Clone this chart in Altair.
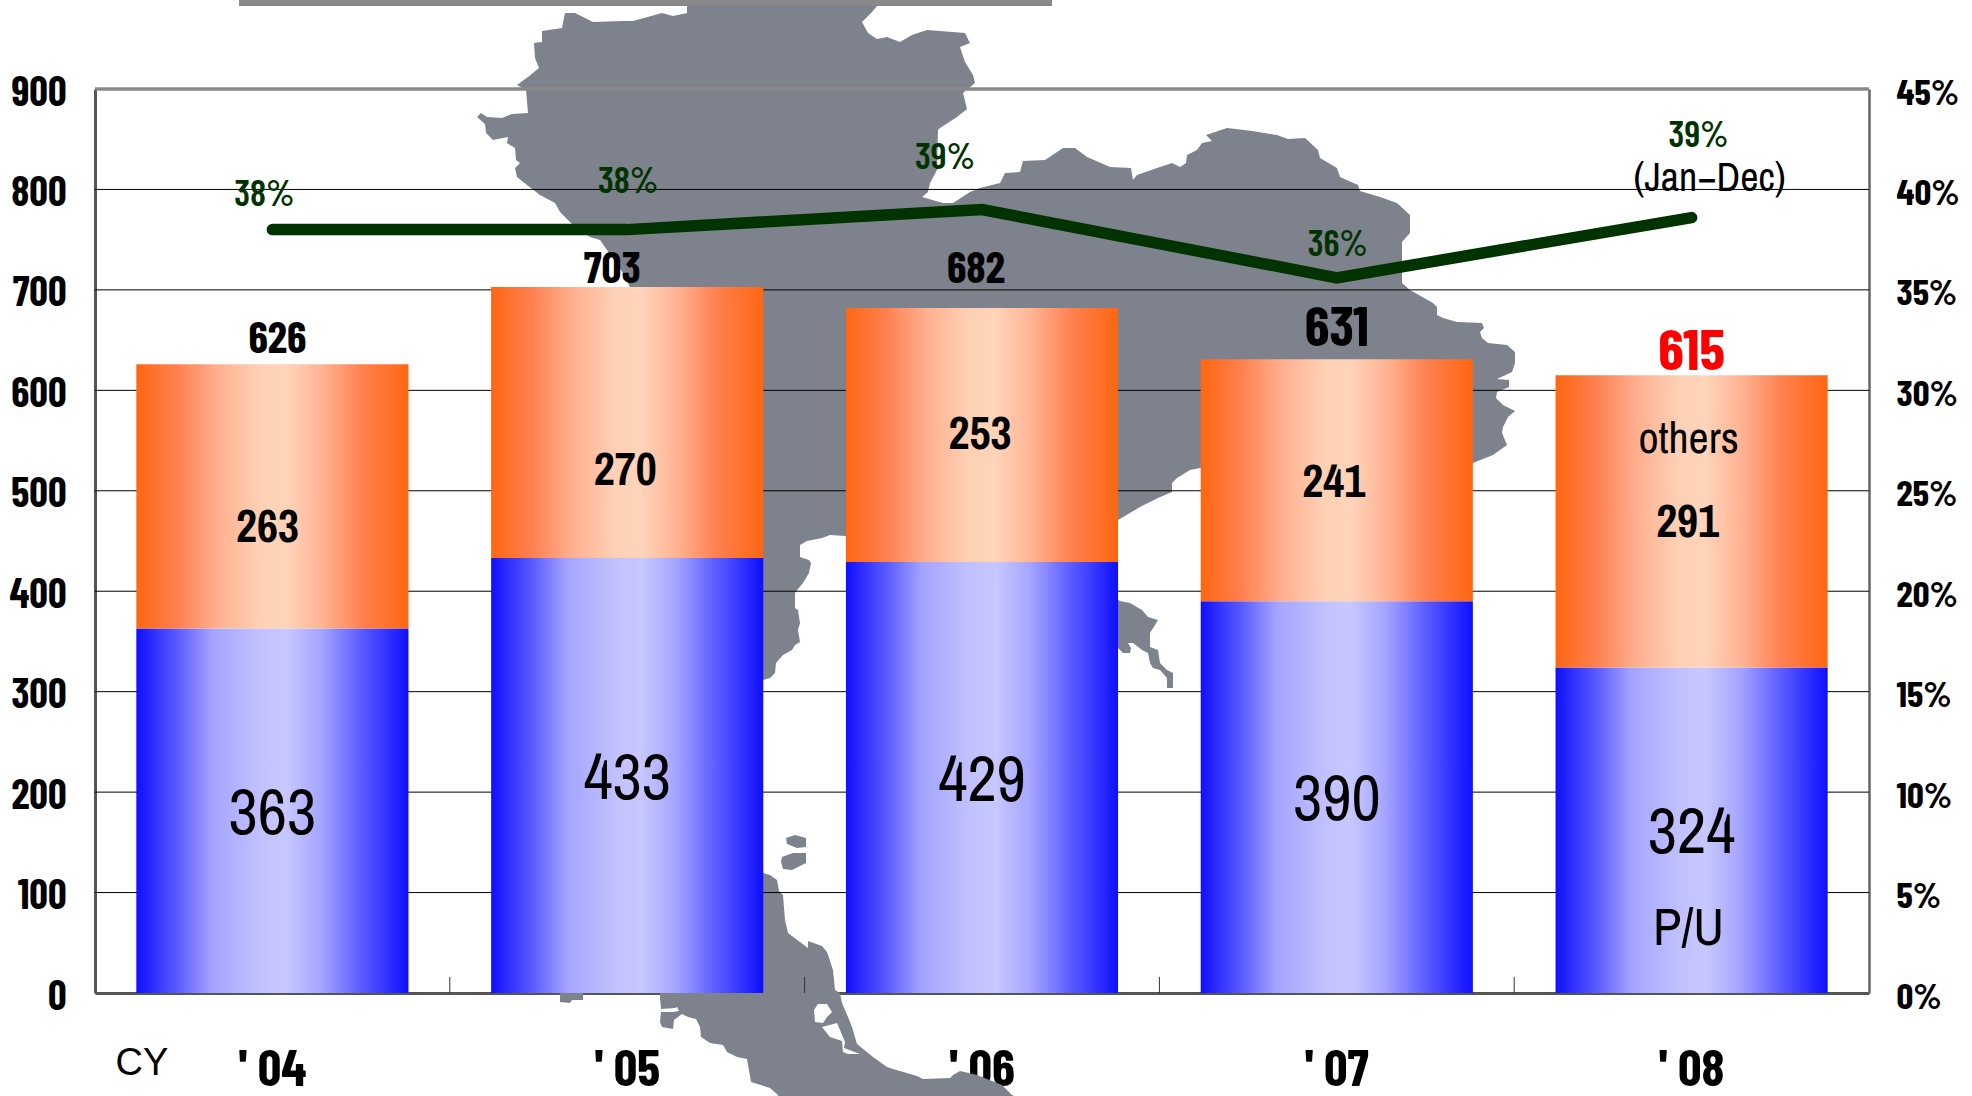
import altair as alt
import pandas as pd

# ---- values ----
years = ["' 04", "' 05", "' 06", "' 07", "' 08"]
pickups = [363, 433, 429, 390, 324]
others = [263, 270, 253, 241, 291]
totals = [626, 703, 682, 631, 615]
share = [38.0, 38.0, 39.0, 35.6, 38.6]

left_ticks = [0, 100, 200, 300, 400, 500, 600, 700, 800, 900]
right_ticks = [0, 5, 10, 15, 20, 25, 30, 35, 40, 45]
grid_levels = [100, 200, 300, 400, 500, 600, 700, 800]

# ---- label placement (hand-set offsets from each mark) ----
others_lift = [-30, -46, 2, -1, 0]
others_dx = [-5, -2, -2, -3, -4]
total_lift = [11, 4, 25, 13, 5]
total_dx = [5, -15, -6, 0, 0]
total_size = [44, 44, 44, 56, 58]
total_ink = ["#000000", "#000000", "#000000", "#000000", "#ff0000"]
share_lift = [1.2, 1.8, 2.0, 1.1, 3.5]
share_dx = [-8, 1, -37, 1, 7]

# ---- backdrop map outline, in page pixels ----
mainland = [
    (687, 0), (687, 13), (673, 16), (662, 13), (633, 21), (623, 21), (593, 22), (575, 13), (565, 13),
    (562, 28), (542, 31), (542, 42), (534, 43), (535, 58), (539, 68), (528, 77), (517, 85), (526, 90),
    (528, 113), (512, 114), (502, 118), (487, 117), (481, 113), (477, 117), (485, 124), (486, 133),
    (493, 140), (508, 137), (507, 143), (515, 148), (516, 160), (520, 163), (515, 168), (517, 177),
    (527, 185), (540, 195), (555, 203), (560, 212), (570, 222), (575, 227), (590, 237), (600, 240),
    (623, 273), (630, 287), (660, 990), (660, 997), (661, 1009), (675, 1008), (677, 1007), (679, 1011),
    (673, 1012), (661, 1012), (660, 1022), (662, 1027), (673, 1029), (674, 1020), (682, 1014),
    (688, 1017), (696, 1019), (700, 1027), (701, 1037), (710, 1043), (723, 1045), (727, 1052),
    (737, 1057), (747, 1059), (751, 1082), (770, 1088), (778, 1095), (778, 1096), (1014, 1096),
    (1012, 1095), (1002, 1085), (977, 1075), (960, 1071), (953, 1075), (950, 1078), (923, 1079),
    (917, 1076), (893, 1069), (887, 1067), (873, 1057), (857, 1044), (852, 1027), (848, 1017),
    (842, 1003), (840, 993), (835, 990), (833, 970), (827, 952), (822, 946), (808, 941), (808, 948),
    (800, 942), (788, 933), (785, 920), (783, 895), (779, 891), (777, 880), (770, 875), (763, 873),
    (763, 680), (770, 678), (775, 673), (776, 663), (783, 655), (792, 650), (795, 645), (800, 642),
    (798, 630), (800, 623), (798, 610), (795, 608), (795, 593), (798, 589), (803, 583), (809, 573),
    (811, 563), (809, 560), (800, 557), (800, 545), (807, 541), (822, 538), (830, 535), (845, 536),
    (1118, 648), (1123, 653), (1130, 653), (1131, 648), (1128, 643), (1133, 643), (1142, 650),
    (1148, 653), (1150, 663), (1153, 668), (1160, 670), (1167, 678), (1167, 688), (1173, 688),
    (1173, 673), (1167, 670), (1160, 663), (1158, 650), (1150, 647), (1150, 633), (1155, 625),
    (1158, 620), (1148, 617), (1142, 610), (1130, 603), (1120, 601), (1118, 600), (1118, 520),
    (1140, 507), (1158, 498), (1172, 492), (1172, 483), (1177, 478), (1190, 470), (1200, 468),
    (1473, 463), (1493, 455), (1507, 445), (1502, 433), (1503, 427), (1508, 417), (1515, 411),
    (1503, 405), (1496, 398), (1497, 392), (1509, 387), (1509, 380), (1497, 379), (1512, 372),
    (1515, 363), (1515, 352), (1507, 345), (1488, 343), (1482, 338), (1480, 332), (1484, 328),
    (1482, 323), (1457, 322), (1443, 318), (1437, 315), (1437, 307), (1433, 303), (1410, 290),
    (1402, 283), (1402, 242), (1410, 233), (1410, 215), (1397, 203), (1380, 197), (1360, 191),
    (1358, 185), (1340, 177), (1337, 168), (1320, 158), (1318, 150), (1305, 138), (1288, 139),
    (1277, 135), (1252, 131), (1227, 128), (1206, 135), (1212, 141), (1202, 143), (1197, 150),
    (1187, 155), (1186, 163), (1180, 167), (1172, 163), (1157, 168), (1137, 175), (1133, 180),
    (1131, 168), (1110, 167), (1087, 157), (1075, 148), (1063, 148), (1045, 160), (1023, 161),
    (1020, 172), (1005, 173), (1000, 183), (980, 188), (970, 192), (953, 203), (943, 203), (922, 197),
    (928, 192), (930, 183), (937, 170), (938, 130), (940, 128), (957, 117), (967, 109), (963, 93),
    (975, 83), (973, 75), (965, 62), (960, 47), (970, 43), (965, 33), (927, 30), (912, 35), (900, 42),
    (887, 37), (877, 39), (868, 33), (862, 22), (872, 12), (877, 6), (877, 0), (687, 0),
]
lake = [(818, 1004), (827, 1004), (832, 1012), (827, 1017), (823, 1023), (815, 1022), (814, 1010), (818, 1004)]
bay = [
    (822, 1027), (837, 1023), (840, 1030), (845, 1042), (844, 1048), (860, 1054), (848, 1054),
    (843, 1052), (842, 1041), (830, 1037), (822, 1027),
]
isle_a = [(786, 838), (795, 835), (806, 838), (806, 847), (797, 848), (787, 844), (786, 838)]
isle_b = [(782, 857), (793, 853), (806, 853), (806, 863), (792, 870), (783, 869), (781, 862), (782, 857)]
isle_c = [(560, 985), (583, 985), (583, 1000), (572, 1000), (570, 1003), (560, 1002), (560, 985)]
top_strip = [(239, 0), (1052, 0), (1052, 6), (239, 6), (239, 0)]


def feature_collection(*polygons):
    feats = [
        {"type": "Feature", "properties": {},
         "geometry": {"type": "Polygon", "coordinates": [[list(p) for p in ring] for ring in rings]}}
        for rings in polygons
    ]
    return alt.InlineData(values={"type": "FeatureCollection", "features": feats},
                          format=alt.DataFormat(type="json", property="features"))


# ---- frame ----
PLOT_L, PLOT_T, PLOT_W, PLOT_H = 95, 89, 1774, 904
HEAVY = "Barlow Condensed, Liberation Sans"
PLAIN = "Archivo Narrow, Liberation Sans"
step = PLOT_W / 5
half_band = step * 0.767 / 2
flat_map = dict(type="identity", scale=1, translate=[-PLOT_L, -PLOT_T])

x_enc = alt.X(
    "year:N", sort=None, scale=alt.Scale(paddingInner=0.233, paddingOuter=0.1165),
    axis=alt.Axis(
        title="CY", titleX=20, titleY=81, titleAnchor="start", titleAlign="left", titleBaseline="alphabetic",
        titleFont="Liberation Sans", titleFontSize=38, titleFontWeight="normal", titleColor="#000000",
        labelAngle=0, labelFont=HEAVY, labelFontSize=52, labelFontWeight="bold", labelColor="#000000",
        labelPadding=92, labelBaseline="alphabetic", ticks=False,
        domainColor="#555555", domainWidth=3,
    ),
)

y_scale = alt.Scale(domain=[0, 900], nice=False, zero=True)
y_axis = alt.Axis(
    title=None, orient="left", values=left_ticks, ticks=False, grid=False, labelPadding=29, labelOverlap=False,
    labelOffset=4, labelFont=HEAVY, labelFontSize=41, labelFontWeight="bold", labelColor="#000000",
    domainColor="#555555", domainWidth=3,
)


def y_left(field):
    return alt.Y(field, scale=y_scale, axis=y_axis)


# ---- tables ----
stack = pd.DataFrame({"year": years, "pickups": pickups, "others": others, "total": totals})
stack["pick_mid"] = stack["pickups"] / 2
stack["others_mid"] = stack["pickups"] + stack["others"] / 2 + pd.Series(others_lift)
stack["others_dx"] = pd.Series(others_dx) + half_band
stack["total_at"] = stack["total"] + pd.Series(total_lift)
stack["total_dx"] = pd.Series(total_dx) + half_band
stack["total_size"] = total_size
stack["total_ink"] = total_ink
stack["floor"] = 0
stack["tick_top"] = 16

line = pd.DataFrame({"year": years, "share": share})
line["label_at"] = line["share"] + pd.Series(share_lift)
line["label_dx"] = pd.Series(share_dx) + half_band
line["label"] = [f"{round(v)}%" for v in share]

blue_fill = alt.Gradient(gradient="linear", x1=0, x2=1, y1=0, y2=0, stops=[
    alt.GradientStop(offset=0, color="#0f0fff"), alt.GradientStop(offset=0.15, color="#5a5aff"),
    alt.GradientStop(offset=0.28, color="#a4a4ff"), alt.GradientStop(offset=0.45, color="#c0c0ff"),
    alt.GradientStop(offset=0.55, color="#c8c8ff"), alt.GradientStop(offset=0.68, color="#a4a4ff"),
    alt.GradientStop(offset=0.82, color="#5f5fff"), alt.GradientStop(offset=1, color="#0f0fff"),
])
orange_fill = alt.Gradient(gradient="linear", x1=0, x2=1, y1=0, y2=0, stops=[
    alt.GradientStop(offset=0, color="#ff6611"), alt.GradientStop(offset=0.15, color="#ff8050"),
    alt.GradientStop(offset=0.3, color="#ffb090"), alt.GradientStop(offset=0.45, color="#ffd0b4"),
    alt.GradientStop(offset=0.55, color="#ffd4ba"), alt.GradientStop(offset=0.68, color="#ffb494"),
    alt.GradientStop(offset=0.83, color="#ff8050"), alt.GradientStop(offset=1, color="#ff6611"),
])

# ---- backdrop ----
land = alt.Chart(feature_collection([mainland, lake, bay], [isle_a], [isle_b], [isle_c])).mark_geoshape(
    fill="#7d828d", strokeWidth=0, clip=False
).project(**flat_map)
strip = alt.Chart(feature_collection([top_strip])).mark_geoshape(
    fill="#888888", strokeWidth=0, clip=False
).project(**flat_map)

# ---- frame lines ----
grid = alt.Chart(pd.DataFrame({"y": grid_levels})).mark_rule(color="#000000", strokeWidth=1).encode(
    y=y_left("y:Q")
)
top_edge = alt.Chart(pd.DataFrame({"y": [900]})).mark_rule(color="#888888", strokeWidth=3.5).encode(
    y=y_left("y:Q")
)
edge_ticks = alt.Chart(stack.iloc[:4]).mark_rule(color="#333333", strokeWidth=1).encode(
    x=x_enc, y=y_left("floor:Q"), y2="tick_top:Q", xOffset=alt.value(half_band + step / 2)
)

# ---- bars ----
bars_low = alt.Chart(stack).mark_bar(fill=blue_fill, strokeWidth=0).encode(
    x=x_enc, y=y_left("floor:Q"), y2="pickups:Q"
)
bars_high = alt.Chart(stack).mark_bar(fill=orange_fill, strokeWidth=0).encode(
    x=x_enc, y=y_left("pickups:Q"), y2="total:Q"
)

# ---- bar labels ----
low_labels = alt.Chart(stack).mark_text(font=PLAIN, fontSize=64, color="#000000", baseline="middle", dy=4).encode(
    x=x_enc, y=y_left("pick_mid:Q"), text="pickups:Q"
)
high_labels = alt.Chart(stack).mark_text(
    font=PLAIN, fontSize=46, fontWeight="bold", color="#000000", baseline="middle", dy=2
).encode(
    x=x_enc, y=y_left("others_mid:Q"), text="others:Q",
    xOffset=alt.XOffset("others_dx:Q", scale=None),
)
total_labels = alt.Chart(stack).mark_text(font=HEAVY, fontWeight="bold", baseline="alphabetic").encode(
    x=x_enc, y=y_left("total_at:Q"), text="total:Q",
    xOffset=alt.XOffset("total_dx:Q", scale=None),
    size=alt.Size("total_size:Q", scale=None, legend=None),
    color=alt.Color("total_ink:N", scale=None, legend=None),
)
series_names = pd.DataFrame({
    "year": [years[4], years[4]], "name": ["others", "P/U"], "at": [538, 48], "em": [44, 52],
})
name_labels = alt.Chart(series_names).mark_text(
    font=PLAIN, baseline="alphabetic", color="#000000", dx=-3
).encode(
    x=x_enc, y=y_left("at:Q"), text="name:N",
    size=alt.Size("em:Q", scale=None, legend=None),
)

left = alt.layer(land, grid, top_edge, strip, edge_ticks, bars_low, bars_high,
                 low_labels, high_labels, total_labels, name_labels)

# ---- share line, on the right-hand axis ----
share_scale = alt.Scale(domain=[0, 45], nice=False, zero=True)
share_axis = alt.Axis(
    title=None, orient="right", values=right_ticks, ticks=False, grid=False, labelPadding=27, labelOverlap=False,
    labelOffset=4, labelExpr="datum.value + '%'", labelFont=HEAVY, labelFontSize=37, labelFontWeight="bold",
    labelColor="#000000", domainColor="#666666", domainWidth=2.5,
)


def y_right(field):
    return alt.Y(field, scale=share_scale, axis=share_axis)


share_line = alt.Chart(line).mark_line(color="#003300", strokeWidth=11.5, strokeCap="round", strokeJoin="miter").encode(
    x=x_enc, y=y_right("share:Q")
)
share_labels = alt.Chart(line).mark_text(
    font=HEAVY, fontSize=37, fontWeight=600, color="#003300", baseline="alphabetic"
).encode(
    x=x_enc, y=y_right("label_at:Q"), text="label:N",
    xOffset=alt.XOffset("label_dx:Q", scale=None),
)
period = alt.Chart(pd.DataFrame({"year": [years[4]], "at": [39.9], "note": ["(Jan\u2212Dec)"]})).mark_text(
    font=PLAIN, fontSize=40, color="#000000", baseline="alphabetic", dx=18
).encode(x=x_enc, y=y_right("at:Q"), text="note:N")

right = alt.layer(share_line, share_labels, period)

chart = alt.layer(left, right).resolve_scale(y="independent").properties(
    width=PLOT_W, height=PLOT_H,
    padding={"left": PLOT_L, "top": PLOT_T, "right": 1972 - PLOT_L - PLOT_W, "bottom": 1096 - PLOT_T - PLOT_H},
    autosize=alt.AutoSizeParams(type="none"),
    background="#ffffff",
).configure_view(stroke=None)

chart.save("out.html", embed_options={"renderer": "svg", "actions": False})
